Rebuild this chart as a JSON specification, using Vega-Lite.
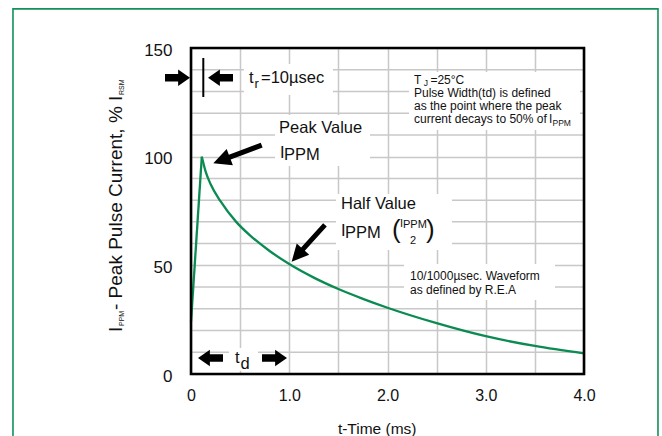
{
  "$schema": "https://vega.github.io/schema/vega-lite/v6.json",
  "width": 393,
  "height": 326,
  "autosize": {"type": "none"},
  "padding": {"left": 191, "top": 48, "right": 78, "bottom": 62},
  "background": "white",
  "config": {
    "font": "Liberation Sans",
    "view": {"stroke": null}
  },
  "datasets": {
    "curve": [
      {"t": 0, "v": 24, "part": "rise"},
      {"t": 0.11, "v": 100, "part": "rise"},
      {"t": 0.11, "v": 100, "part": "decay"},
      {"t": 0.15, "v": 93, "part": "decay"},
      {"t": 0.2, "v": 87.3, "part": "decay"},
      {"t": 0.3, "v": 79.5, "part": "decay"},
      {"t": 0.46, "v": 70, "part": "decay"},
      {"t": 0.6, "v": 63.8, "part": "decay"},
      {"t": 0.8, "v": 56.6, "part": "decay"},
      {"t": 1.0, "v": 50.6, "part": "decay"},
      {"t": 1.25, "v": 44.35, "part": "decay"},
      {"t": 1.5, "v": 39.1, "part": "decay"},
      {"t": 1.75, "v": 34.6, "part": "decay"},
      {"t": 2.0, "v": 30.5, "part": "decay"},
      {"t": 2.5, "v": 23.4, "part": "decay"},
      {"t": 3.0, "v": 17.4, "part": "decay"},
      {"t": 3.5, "v": 12.9, "part": "decay"},
      {"t": 4.0, "v": 9.5, "part": "decay"}
    ],
    "hgrid": [
      {"v": 10}, {"v": 20}, {"v": 30}, {"v": 40}, {"v": 60}, {"v": 70},
      {"v": 80}, {"v": 90}, {"v": 110}, {"v": 120}, {"v": 130}, {"v": 140}
    ],
    "notes": [
      {"text": "t", "t": 0.59, "v": 133.9, "g": "big"},
      {"text": "=10µsec", "t": 0.7125, "v": 133.9, "g": "big"},
      {"text": "Peak Value", "t": 0.896, "v": 110.9, "g": "big"},
      {"text": "I", "t": 0.906, "v": 99.4, "g": "big"},
      {"text": "PPM", "t": 0.947, "v": 98.5, "g": "big"},
      {"text": "Half Value", "t": 1.527, "v": 75.9, "g": "big"},
      {"text": "I", "t": 1.527, "v": 63.5, "g": "big"},
      {"text": "PPM", "t": 1.567, "v": 62.6, "g": "big"},
      {"text": "t", "t": 0.448, "v": 5.06, "g": "big"},
      {"text": "d", "t": 0.504, "v": 2.3, "g": "big"},
      {"text": "r", "t": 0.646, "v": 131.6, "g": "sub"},
      {"text": "(", "t": 2.046, "v": 62.6, "g": "paren"},
      {"text": ")", "t": 2.392, "v": 62.6, "g": "paren"},
      {"text": "I", "t": 2.127, "v": 67.6, "g": "frac"},
      {"text": "PPM", "t": 2.158, "v": 67.2, "g": "frac"},
      {"text": "2", "t": 2.229, "v": 59.8, "g": "frac"},
      {"text": "T", "t": 2.27, "v": 133.4, "g": "note"},
      {"text": "=25°C", "t": 2.437, "v": 133.4, "g": "note"},
      {"text": "Pulse Width(td) is defined", "t": 2.27, "v": 127.5, "g": "note"},
      {"text": "as the point where the peak", "t": 2.27, "v": 121.5, "g": "note"},
      {"text": "current decays to 50% of", "t": 2.27, "v": 115.5, "g": "note"},
      {"text": "I", "t": 3.6438, "v": 115.5, "g": "note"},
      {"text": "J", "t": 2.368, "v": 132.3, "g": "notesub"},
      {"text": "PPM", "t": 3.6794, "v": 114.1, "g": "notesub"},
      {"text": "10/1000µsec. Waveform", "t": 2.229, "v": 43.25, "g": "wave"},
      {"text": "as defined by R.E.A", "t": 2.229, "v": 36.6, "g": "wave"},
      {"text": "I", "t": -0.7023, "v": 19.33, "g": "ytitle"},
      {"text": "- Peak Pulse Current, % I", "t": -0.7023, "v": 29.45, "g": "ytitle"},
      {"text": "PPM", "t": -0.6819, "v": 22.09, "g": "ytitlesub"},
      {"text": "RSM", "t": -0.6819, "v": 128.4, "g": "ytitlesub"}
    ],
    "boxes": [
      {"t1": 0.539, "t2": 1.445, "v1": 142.6, "v2": 128.4},
      {"t1": 0.855, "t2": 1.822, "v1": 119.2, "v2": 95.7},
      {"t1": 1.476, "t2": 2.656, "v1": 82.8, "v2": 57.1},
      {"t1": 2.219, "t2": 3.959, "v1": 139.0, "v2": 112.3},
      {"t1": 2.168, "t2": 3.705, "v1": 50.6, "v2": 34.0},
      {"t1": 0.387, "t2": 0.682, "v1": 12.0, "v2": 1.5}
    ],
    "arrows": [
      {"t": -0.1374, "v": 136.33, "kind": "right"},
      {"t": 0.8499, "v": 7.36, "kind": "right"},
      {"t": 0.3003, "v": 136.33, "kind": "left"},
      {"t": 0.1985, "v": 7.36, "kind": "left"},
      {"t": 0.4733, "v": 101.14, "kind": "peak"},
      {"t": 1.1939, "v": 60.14, "kind": "half"}
    ]
  },
  "layer": [
    {
      "data": {"name": "hgrid"},
      "mark": {"type": "rule", "color": "#c8c8c8", "strokeWidth": 1.5},
      "encoding": {
        "y": {"field": "v", "type": "quantitative", "scale": {"domain": [0, 150], "nice": false}}
      }
    },
    {
      "data": {"name": "curve"},
      "mark": {"type": "line", "interpolate": "monotone", "color": "#0b8a52", "strokeWidth": 2.3},
      "encoding": {
        "x": {
          "field": "t", "type": "quantitative",
          "scale": {"domain": [0, 4], "nice": false},
          "axis": {
            "values": [0, 0.5, 1, 1.5, 2, 2.5, 3, 3.5, 4],
            "grid": true, "gridColor": "#c8c8c8", "gridWidth": 1.5,
            "ticks": false, "tickSize": 0, "domain": false, "labelOverlap": false, "labelFlush": false,
            "labelExpr": "datum.value == 0 ? '0' : (datum.value % 1 == 0 ? format(datum.value, '.1f') : '')",
            "labelFontSize": 16, "labelColor": "#111111", "labelPadding": 13,
            "title": "t-Time (ms)", "titleFontSize": 15.5, "titleFontWeight": "normal", "titleColor": "#111111",
            "titleX": 185.7, "titleY": 59, "titleBaseline": "alphabetic", "titleAlign": "center"
          }
        },
        "y": {
          "field": "v", "type": "quantitative",
          "scale": {"domain": [0, 150], "nice": false},
          "axis": {
            "values": [0, 50, 100, 150],
            "grid": true, "gridColor": "#c8c8c8", "gridWidth": 1.5,
            "ticks": false, "tickSize": 0, "domain": false, "labelOverlap": false, "labelFlush": false,
            "labelFontSize": 17, "labelColor": "#111111", "labelPadding": 19, "labelOffset": 2,
            "title": null
          }
        },
        "detail": {"field": "part"}
      }
    },
    {
      "data": {"values": [{}]},
      "mark": {"type": "rect", "fillOpacity": 0, "fill": "white", "stroke": "#12925a", "strokeWidth": 1.6},
      "encoding": {
        "x": {"datum": -1.812, "type": "quantitative", "scale": {"domain": [0, 4], "nice": false}},
        "x2": {"datum": 4.753},
        "y": {"datum": 168, "type": "quantitative", "scale": {"domain": [0, 150], "nice": false}},
        "y2": {"datum": -40}
      }
    },
    {
      "data": {"name": "boxes"},
      "mark": {"type": "rect", "fill": "white"},
      "encoding": {
        "x": {"field": "t1", "type": "quantitative", "scale": {"domain": [0, 4], "nice": false}},
        "x2": {"field": "t2"},
        "y": {"field": "v1", "type": "quantitative", "scale": {"domain": [0, 150], "nice": false}},
        "y2": {"field": "v2"}
      }
    },
    {
      "data": {"values": [{}]},
      "mark": {"type": "rect", "fillOpacity": 0, "fill": "white", "stroke": "black", "strokeWidth": 2.6},
      "encoding": {
        "x": {"datum": 0, "type": "quantitative", "scale": {"domain": [0, 4], "nice": false}},
        "x2": {"datum": 4},
        "y": {"datum": 0, "type": "quantitative", "scale": {"domain": [0, 150], "nice": false}},
        "y2": {"datum": 150}
      }
    },
    {
      "data": {"values": [{}]},
      "mark": {"type": "rule", "color": "black", "strokeWidth": 2},
      "encoding": {
        "x": {"datum": 0.1252, "type": "quantitative", "scale": {"domain": [0, 4], "nice": false}},
        "y": {"datum": 145.4, "type": "quantitative", "scale": {"domain": [0, 150], "nice": false}},
        "y2": {"datum": 127.46}
      }
    },
    {
      "data": {"name": "arrows"},
      "transform": [{"filter": "datum.kind == 'right'"}],
      "mark": {"type": "point", "filled": true, "color": "black", "opacity": 1, "size": 625, "angle": 0,
        "shape": "M -1 -0.3 L 0.05 -0.3 L 0.05 -0.66 L 1 0 L 0.05 0.66 L 0.05 0.3 L -1 0.3 Z"},
      "encoding": {
        "x": {"field": "t", "type": "quantitative", "scale": {"domain": [0, 4], "nice": false}},
        "y": {"field": "v", "type": "quantitative", "scale": {"domain": [0, 150], "nice": false}}
      }
    },
    {
      "data": {"name": "arrows"},
      "transform": [{"filter": "datum.kind == 'left'"}],
      "mark": {"type": "point", "filled": true, "color": "black", "opacity": 1, "size": 625, "angle": 180,
        "shape": "M -1 -0.3 L 0.05 -0.3 L 0.05 -0.66 L 1 0 L 0.05 0.66 L 0.05 0.3 L -1 0.3 Z"},
      "encoding": {
        "x": {"field": "t", "type": "quantitative", "scale": {"domain": [0, 4], "nice": false}},
        "y": {"field": "v", "type": "quantitative", "scale": {"domain": [0, 150], "nice": false}}
      }
    },
    {
      "data": {"name": "arrows"},
      "transform": [{"filter": "datum.kind == 'peak'"}],
      "mark": {"type": "point", "filled": true, "color": "black", "opacity": 1, "size": 2673, "angle": 159.3,
        "shape": "M -1 -0.1 L 0.32 -0.1 L 0.32 -0.34 L 1 0 L 0.32 0.34 L 0.32 0.1 L -1 0.1 Z"},
      "encoding": {
        "x": {"field": "t", "type": "quantitative", "scale": {"domain": [0, 4], "nice": false}},
        "y": {"field": "v", "type": "quantitative", "scale": {"domain": [0, 150], "nice": false}}
      }
    },
    {
      "data": {"name": "arrows"},
      "transform": [{"filter": "datum.kind == 'half'"}],
      "mark": {"type": "point", "filled": true, "color": "black", "opacity": 1, "size": 2460, "angle": 132.2,
        "shape": "M -1 -0.1 L 0.32 -0.1 L 0.32 -0.34 L 1 0 L 0.32 0.34 L 0.32 0.1 L -1 0.1 Z"},
      "encoding": {
        "x": {"field": "t", "type": "quantitative", "scale": {"domain": [0, 4], "nice": false}},
        "y": {"field": "v", "type": "quantitative", "scale": {"domain": [0, 150], "nice": false}}
      }
    },
    {
      "data": {"name": "notes"},
      "transform": [{"filter": "datum.g == 'big'"}],
      "mark": {"type": "text", "align": "left", "baseline": "alphabetic", "fontSize": 16.5, "color": "#111111"},
      "encoding": {
        "x": {"field": "t", "type": "quantitative", "scale": {"domain": [0, 4], "nice": false}},
        "y": {"field": "v", "type": "quantitative", "scale": {"domain": [0, 150], "nice": false}},
        "text": {"field": "text"}
      }
    },
    {
      "data": {"name": "notes"},
      "transform": [{"filter": "datum.g == 'sub'"}],
      "mark": {"type": "text", "align": "left", "baseline": "alphabetic", "fontSize": 13, "color": "#111111"},
      "encoding": {
        "x": {"field": "t", "type": "quantitative", "scale": {"domain": [0, 4], "nice": false}},
        "y": {"field": "v", "type": "quantitative", "scale": {"domain": [0, 150], "nice": false}},
        "text": {"field": "text"}
      }
    },
    {
      "data": {"name": "notes"},
      "transform": [{"filter": "datum.g == 'paren'"}],
      "mark": {"type": "text", "align": "left", "baseline": "alphabetic", "fontSize": 26, "color": "#111111"},
      "encoding": {
        "x": {"field": "t", "type": "quantitative", "scale": {"domain": [0, 4], "nice": false}},
        "y": {"field": "v", "type": "quantitative", "scale": {"domain": [0, 150], "nice": false}},
        "text": {"field": "text"}
      }
    },
    {
      "data": {"name": "notes"},
      "transform": [{"filter": "datum.g == 'frac'"}],
      "mark": {"type": "text", "align": "left", "baseline": "alphabetic", "fontSize": 11, "color": "#111111"},
      "encoding": {
        "x": {"field": "t", "type": "quantitative", "scale": {"domain": [0, 4], "nice": false}},
        "y": {"field": "v", "type": "quantitative", "scale": {"domain": [0, 150], "nice": false}},
        "text": {"field": "text"}
      }
    },
    {
      "data": {"name": "notes"},
      "transform": [{"filter": "datum.g == 'note'"}],
      "mark": {"type": "text", "align": "left", "baseline": "alphabetic", "fontSize": 12, "color": "#111111"},
      "encoding": {
        "x": {"field": "t", "type": "quantitative", "scale": {"domain": [0, 4], "nice": false}},
        "y": {"field": "v", "type": "quantitative", "scale": {"domain": [0, 150], "nice": false}},
        "text": {"field": "text"}
      }
    },
    {
      "data": {"name": "notes"},
      "transform": [{"filter": "datum.g == 'notesub'"}],
      "mark": {"type": "text", "align": "left", "baseline": "alphabetic", "fontSize": 8.5, "color": "#111111"},
      "encoding": {
        "x": {"field": "t", "type": "quantitative", "scale": {"domain": [0, 4], "nice": false}},
        "y": {"field": "v", "type": "quantitative", "scale": {"domain": [0, 150], "nice": false}},
        "text": {"field": "text"}
      }
    },
    {
      "data": {"name": "notes"},
      "transform": [{"filter": "datum.g == 'wave'"}],
      "mark": {"type": "text", "align": "left", "baseline": "alphabetic", "fontSize": 12, "color": "#111111"},
      "encoding": {
        "x": {"field": "t", "type": "quantitative", "scale": {"domain": [0, 4], "nice": false}},
        "y": {"field": "v", "type": "quantitative", "scale": {"domain": [0, 150], "nice": false}},
        "text": {"field": "text"}
      }
    },
    {
      "data": {"name": "notes"},
      "transform": [{"filter": "datum.g == 'ytitle'"}],
      "mark": {"type": "text", "align": "left", "baseline": "alphabetic", "fontSize": 19, "angle": 270, "color": "#111111"},
      "encoding": {
        "x": {"field": "t", "type": "quantitative", "scale": {"domain": [0, 4], "nice": false}},
        "y": {"field": "v", "type": "quantitative", "scale": {"domain": [0, 150], "nice": false}},
        "text": {"field": "text"}
      }
    },
    {
      "data": {"name": "notes"},
      "transform": [{"filter": "datum.g == 'ytitlesub'"}],
      "mark": {"type": "text", "align": "left", "baseline": "alphabetic", "fontSize": 7, "angle": 270, "color": "#111111"},
      "encoding": {
        "x": {"field": "t", "type": "quantitative", "scale": {"domain": [0, 4], "nice": false}},
        "y": {"field": "v", "type": "quantitative", "scale": {"domain": [0, 150], "nice": false}},
        "text": {"field": "text"}
      }
    }
  ]
}
